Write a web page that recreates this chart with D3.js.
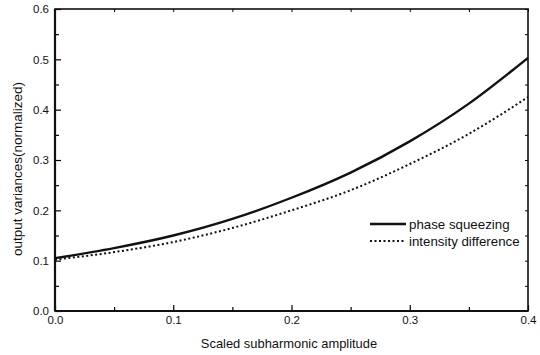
<!DOCTYPE html>
<html>
<head>
<meta charset="utf-8">
<script src="https://cdn.jsdelivr.net/npm/d3@7"></script>
<style>
  body { margin: 0; background: #fff; }
  text { font-family: "Liberation Sans", Arial, sans-serif; fill: #111; }
</style>
</head>
<body>
<div id="chart"></div>
<script>
// amplitude values (x) and the two curves
var amplitude = [0, 0.05, 0.1, 0.15, 0.2, 0.25, 0.3, 0.35, 0.4];
var phaseSqueezing = [0.105, 0.125, 0.150, 0.183, 0.225, 0.275, 0.337, 0.412, 0.503];
var intensityDiff = [0.102, 0.117, 0.137, 0.165, 0.200, 0.240, 0.292, 0.352, 0.425];
var xTicks = [0, 0.1, 0.2, 0.3, 0.4];
var yTicks = [0, 0.1, 0.2, 0.3, 0.4, 0.5, 0.6];
var legendLabels = ["phase squeezing", "intensity difference"];

var W = 540, H = 355;
var margin = {top: 9, right: 12, bottom: 44, left: 55},
    width = W - margin.left - margin.right,
    height = H - margin.top - margin.bottom;

var svg = d3.select("#chart").append("svg")
    .attr("width", W).attr("height", H);
var g = svg.append("g")
    .attr("transform", "translate(" + margin.left + "," + margin.top + ")");

var x = d3.scaleLinear().domain([0, 0.4]).range([0, width]);
var y = d3.scaleLinear().domain([0, 0.6]).range([height, 0]);

var minorX = d3.range(0, 0.401, 0.05);
var minorY = d3.range(0, 0.601, 0.05);

// bottom + top axes, ticks pointing inward
g.append("g").attr("transform", "translate(0," + height + ")")
  .call(d3.axisBottom(x).tickValues(xTicks).tickFormat(d3.format(".1f")).tickSize(0).tickPadding(5))
  .call(a => a.select(".domain").remove())
  .selectAll("text").style("font-size", "11.5px");
g.append("g").attr("transform", "translate(0," + height + ")")
  .call(d3.axisTop(x).tickValues(minorX).tickSize(4).tickFormat(""))
  .call(a => a.selectAll(".tick line").attr("stroke-width", 1.2)
      .attr("y2", (d, i) => i % 2 === 0 ? -6 : -4))
  .call(a => a.select(".domain").remove());
g.append("g")
  .call(d3.axisBottom(x).tickValues(minorX).tickSize(3).tickFormat(""))
  .call(a => a.selectAll(".tick line").attr("stroke-width", 1))
  .call(a => a.select(".domain").remove());

// left + right axes
g.append("g")
  .call(d3.axisLeft(y).tickValues(yTicks).tickFormat(d3.format(".1f")).tickSize(0).tickPadding(6))
  .call(a => a.select(".domain").remove())
  .selectAll("text").style("font-size", "11.5px");
g.append("g")
  .call(d3.axisRight(y).tickValues(minorY).tickFormat(""))
  .call(a => a.selectAll(".tick line").attr("stroke-width", 1.2)
      .attr("x2", (d, i) => i % 2 === 0 ? 6 : 4))
  .call(a => a.select(".domain").remove());
g.append("g").attr("transform", "translate(" + width + ",0)")
  .call(d3.axisLeft(y).tickValues(minorY).tickSize(3).tickFormat(""))
  .call(a => a.selectAll(".tick line").attr("stroke-width", 1))
  .call(a => a.select(".domain").remove());

// frame
g.append("rect").attr("width", width).attr("height", height)
  .attr("fill", "none").attr("stroke", "#111").attr("stroke-width", 1.6);
g.append("line").attr("x1", 0).attr("x2", width).attr("y1", height).attr("y2", height)
  .attr("stroke", "#111").attr("stroke-width", 2.2);
g.append("line").attr("x1", 0).attr("x2", 0).attr("y1", 0).attr("y2", height)
  .attr("stroke", "#111").attr("stroke-width", 2.2);

var line = d3.line()
  .x((d, i) => x(amplitude[i]))
  .y(d => y(d))
  .curve(d3.curveMonotoneX);

g.append("path").datum(phaseSqueezing)
  .attr("fill", "none").attr("stroke", "#111").attr("stroke-width", 2.4)
  .attr("d", line);
g.append("path").datum(intensityDiff)
  .attr("fill", "none").attr("stroke", "#111").attr("stroke-width", 2)
  .attr("stroke-dasharray", "2,2.5")
  .attr("d", line);

// legend
var leg = g.append("g").attr("transform", "translate(315,215)");
leg.append("line").attr("x1", 0).attr("x2", 36).attr("y1", 0).attr("y2", 0)
  .attr("stroke", "#111").attr("stroke-width", 2.4);
leg.append("line").attr("x1", 0).attr("x2", 36).attr("y1", 17).attr("y2", 17)
  .attr("stroke", "#111").attr("stroke-width", 2).attr("stroke-dasharray", "2,2.5");
leg.selectAll("text.lg").data(legendLabels).enter().append("text")
  .attr("class", "lg")
  .attr("x", 39).attr("y", (d, i) => i * 17 + 4.5)
  .style("font-size", "13.3px")
  .text(d => d);

// axis titles
svg.append("text")
  .attr("x", 289).attr("y", 348)
  .attr("text-anchor", "middle").style("font-size", "12.9px")
  .text("Scaled subharmonic amplitude");
svg.append("text")
  .attr("transform", "translate(22,169) rotate(-90)")
  .attr("text-anchor", "middle").style("font-size", "13.5px")
  .text("output variances(normalized)");
</script>
</body>
</html>
